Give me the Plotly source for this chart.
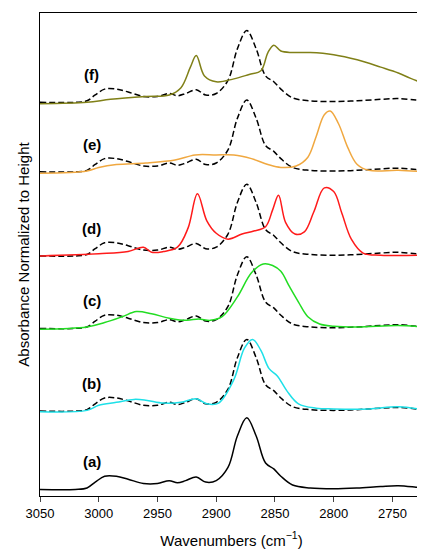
import plotly.graph_objects as go

# reference spectrum (a), also used as dashed overlay
ref_wn = [3050, 3020, 3010, 3003, 2995, 2985, 2975, 2962, 2950, 2940, 2933, 2926, 2917, 2909, 2900, 2890,
          2882, 2874, 2866, 2858, 2851, 2845, 2835, 2820, 2800, 2780, 2760, 2745, 2730, 2724]
ref_y = [0.02, 0.02, 0.04, 0.12, 0.2, 0.2, 0.16, 0.1, 0.1, 0.14, 0.11, 0.14, 0.19, 0.12, 0.14, 0.32,
         0.75, 1.0, 0.75, 0.38, 0.3, 0.2, 0.08, 0.04, 0.03, 0.04, 0.06, 0.07, 0.05, 0.04]

b_wn = [3050, 3010, 3000, 2985, 2970, 2960, 2945, 2930, 2917, 2908, 2898, 2885, 2876, 2869, 2862,
        2855, 2848, 2840, 2830, 2815, 2800, 2770, 2745, 2724]
b_y = [0.01, 0.03, 0.1, 0.14, 0.18, 0.17, 0.13, 0.14, 0.19, 0.12, 0.13, 0.45, 0.88, 1.0, 0.85,
       0.6, 0.5, 0.3, 0.12, 0.06, 0.05, 0.05, 0.08, 0.04]

c_wn = [3050, 3010, 2995, 2980, 2968, 2955, 2940, 2925, 2915, 2905, 2895, 2882, 2870, 2860, 2852,
        2845, 2838, 2830, 2822, 2812, 2800, 2780, 2745, 2724]
c_y = [0.01, 0.04, 0.1, 0.18, 0.25, 0.22, 0.16, 0.13, 0.15, 0.13, 0.18, 0.45, 0.78, 0.9, 0.88,
       0.8, 0.6, 0.38, 0.18, 0.08, 0.05, 0.04, 0.06, 0.04]

d_wn = [3050, 3000, 2975, 2962, 2955, 2945, 2933, 2924, 2916, 2908, 2900, 2890, 2878, 2868, 2858,
        2852, 2847, 2841, 2833, 2825, 2817, 2808, 2800, 2793, 2785, 2775, 2760, 2724]
d_y = [0.02, 0.05, 0.08, 0.14, 0.07, 0.08, 0.14, 0.4, 0.87, 0.5, 0.33, 0.25, 0.32, 0.36, 0.42,
       0.65, 0.85, 0.48, 0.32, 0.35, 0.62, 0.95, 0.9, 0.6, 0.25, 0.06, 0.03, 0.03]

e_wn = [3050, 3010, 3000, 2985, 2960, 2935, 2918, 2900, 2885, 2870, 2856, 2845, 2832, 2822, 2815,
        2808, 2803, 2796, 2788, 2780, 2770, 2745, 2724]
e_y = [0.0, 0.03, 0.08, 0.12, 0.14, 0.18, 0.25, 0.25, 0.25, 0.2, 0.12, 0.08, 0.1, 0.22, 0.5,
       0.8, 0.85, 0.68, 0.35, 0.12, 0.04, 0.04, 0.02]

f_wn = [3050, 3010, 2990, 2960, 2940, 2930, 2922, 2917, 2910, 2900, 2885, 2872, 2862, 2856, 2851,
        2845, 2835, 2820, 2800, 2780, 2760, 2745, 2735, 2724]
f_y = [0.0, 0.02, 0.06, 0.1, 0.12, 0.22, 0.5, 0.66, 0.38, 0.3, 0.34, 0.4, 0.45, 0.7, 0.8,
       0.72, 0.7, 0.7, 0.67, 0.6, 0.5, 0.42, 0.35, 0.28]

labels = ["(a)", "(b)", "(c)", "(d)", "(e)", "(f)"]
offsets = [0.07, 1.14, 2.27, 3.26, 4.41, 5.36]
colors = ["black", "#1EE0E8", "#22DD22", "#FF1A1A", "#F0A840", "#808018"]
spectra = [(ref_wn, ref_y), (b_wn, b_y), (c_wn, c_y), (d_wn, d_y), (e_wn, e_y), (f_wn, f_y)]

fig = go.Figure()
for i, (wn, ys) in enumerate(spectra):
    off = offsets[i]
    if i > 0:
        fig.add_trace(go.Scatter(x=ref_wn, y=[v + off for v in ref_y], mode="lines",
                                 line=dict(color="black", dash="6px,3px", width=1.5, shape="spline")))
    fig.add_trace(go.Scatter(x=wn, y=[v + off for v in ys], mode="lines",
                             line=dict(color=colors[i], width=1.5, shape="spline")))
    fig.add_annotation(x=3006, y=off + 0.4, text="<b>" + labels[i] + "</b>", showarrow=False,
                       font=dict(size=15, color="black"))

fig.update_xaxes(range=[3050, 2724], tickvals=[3050, 3000, 2950, 2900, 2850, 2800, 2750],
                 ticks="outside", showline=True, mirror=True, linecolor="black", showgrid=False,
                 zeroline=False, title=dict(text="Wavenumbers (cm<sup>−1</sup>)", font=dict(size=15)),
                 tickfont=dict(size=13))
fig.update_yaxes(range=[0, 6.6], showticklabels=False, ticks="", showline=True, mirror=True,
                 linecolor="black", showgrid=False, zeroline=False,
                 title=dict(text="Absorbance Normalized to Height", font=dict(size=15), standoff=5))
fig.update_layout(width=425, height=550, margin=dict(l=32, r=10, t=5, b=62),
                  plot_bgcolor="white", paper_bgcolor="white", showlegend=False,
                  font=dict(family="Liberation Sans", color="black"))
fig.write_html("out.html")
